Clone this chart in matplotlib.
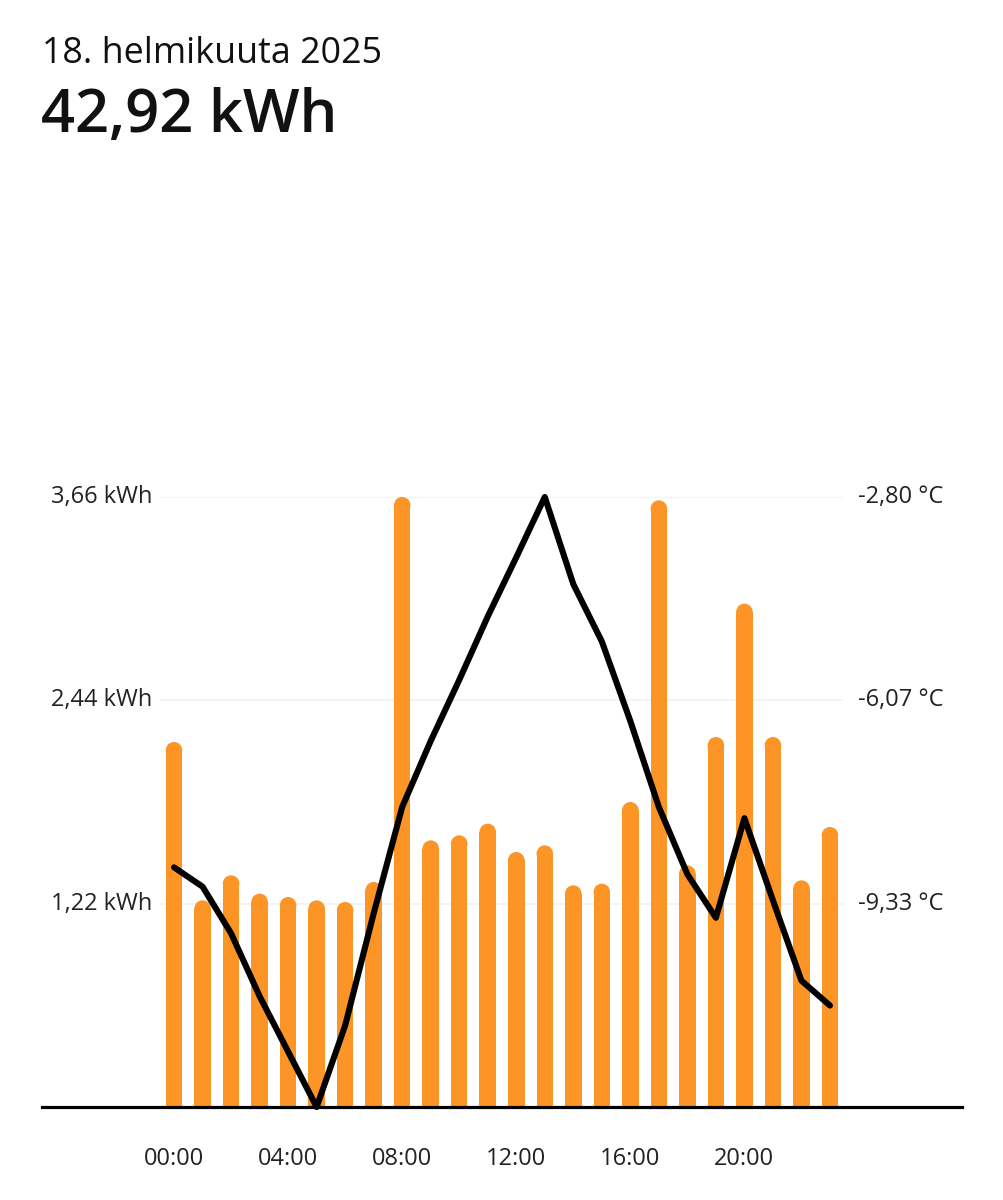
import matplotlib
matplotlib.use("Agg")
import matplotlib.pyplot as plt
import matplotlib.transforms as mtransforms
from matplotlib.patches import Ellipse

plt.rcParams['font.family'] = ['Open Sans', 'DejaVu Sans']

day_label = "18. helmikuuta 2025"
total_label = "42,92 kWh"

hours = list(range(24))
energy_kwh = [2.19, 1.24, 1.39, 1.28, 1.26, 1.24, 1.23, 1.35, 3.66, 1.60, 1.63, 1.70,
              1.53, 1.57, 1.33, 1.34, 1.83, 3.64, 1.45, 2.22, 3.02, 2.22, 1.36, 1.68]
temperature_c = [-8.75, -9.06, -9.81, -10.82, -11.71, -12.60, -11.29, -9.49, -7.78, -6.72,
                 -5.74, -4.72, -3.77, -2.80, -4.20, -5.12, -6.40, -7.78, -8.86, -9.56,
                 -7.96, -9.28, -10.57, -10.97]
tick_hours = [0, 4, 8, 12, 16, 20]
tick_labels = ["00:00", "04:00", "08:00", "12:00", "16:00", "20:00"]

orange = "#fd9426"
label_size = 17
W, H = 1004, 1200
fig = plt.figure(figsize=(W / 100, H / 100), dpi=100)

# axes geometry in pixels
ax_left, ax_right, ax_top, ax_bottom = 42, 962, 497, 1107
ax = fig.add_axes([ax_left / W, 1 - ax_bottom / H, (ax_right - ax_left) / W, (ax_bottom - ax_top) / H])
xmin, xmax = -4.63, 27.63
ax.set_xlim(xmin, xmax)
emax = max(energy_kwh)
ax.set_ylim(0, emax)

# gridlines
yticks = [emax * k / 3 for k in (1, 2, 3)]
ax.hlines(yticks, -0.5, 23.45, color="#f1f1f1", lw=1.2, zorder=0)

# bars with rounded tops
bar_w = 0.58
px_x = (ax_right - ax_left) / (xmax - xmin)
px_y = (ax_bottom - ax_top) / emax
ry = (bar_w * px_x / 2) / px_y
ax.bar(hours, [v - ry for v in energy_kwh], width=bar_w, color=orange, zorder=2, linewidth=0)
for h, v in zip(hours, energy_kwh):
    ax.add_patch(Ellipse((h, v - ry), bar_w, 2 * ry, color=orange, zorder=2, lw=0, clip_on=False))

for s in ["top", "left", "right"]:
    ax.spines[s].set_visible(False)
ax.spines["bottom"].set_linewidth(2.3)
ax.spines["bottom"].set_color("black")
ax.spines["bottom"].set_zorder(5)
ax.set_yticks([])
ax.set_xticks(tick_hours)
ax.set_xticklabels(tick_labels, fontsize=label_size, color="#222222")
ax.tick_params(axis="x", length=0, pad=29)

# temperature line
ax2 = ax.twinx()
tmin, tmax = min(temperature_c), max(temperature_c)
ax2.set_ylim(tmin, tmax)
ax2.plot(hours, temperature_c, color="black", lw=4.4, solid_joinstyle="round",
         solid_capstyle="round", zorder=4, clip_on=False)
ax2.set_yticks([])
for s in ["top", "left", "right", "bottom"]:
    ax2.spines[s].set_visible(False)

# axis labels
trans_l = mtransforms.blended_transform_factory(ax.transAxes, ax.transData)
for v in yticks:
    ax.text((152 - ax_left) / (ax_right - ax_left), v, f"{v:.2f}".replace(".", ",") + " kWh",
            ha="right", va="center", fontsize=label_size, color="#222222", transform=trans_l)
trans_r = mtransforms.blended_transform_factory(ax2.transAxes, ax2.transData)
trange = tmax - tmin
for k in range(3):
    t = tmax - trange * k / 3
    ax2.text((858 - ax_left) / (ax_right - ax_left), t, f"{t:.2f}".replace(".", ",") + " °C",
             ha="left", va="center", fontsize=label_size, color="#222222", transform=trans_r)

fig.text(42 / W, 1 - 63 / H, day_label, fontsize=25.8, color="#111111", va="baseline", ha="left")
fig.text(41 / W, 1 - 132 / H, total_label, fontsize=43, fontweight="semibold", color="#111111",
         va="baseline", ha="left")

fig.savefig("out.png", dpi=100, facecolor="white")
